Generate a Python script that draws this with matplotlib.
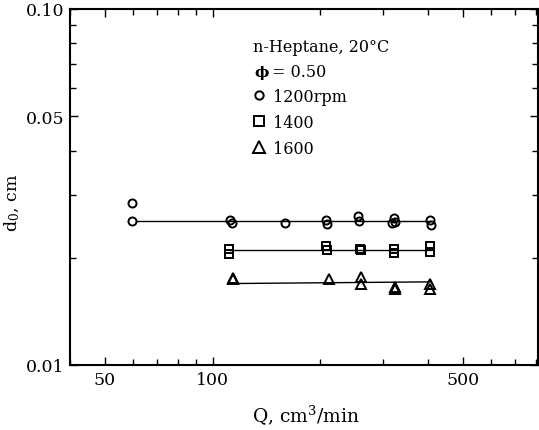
import matplotlib
matplotlib.use("Agg")
import matplotlib.pyplot as plt
from matplotlib.lines import Line2D
from matplotlib.ticker import FixedLocator, LogLocator, NullFormatter, FixedFormatter

plt.rcParams['font.family'] = ['DejaVu Serif', 'DejaVu Sans']
plt.rcParams['mathtext.fontset'] = 'dejavuserif'

# 1200 rpm (circles)
q_1200 = [59.5, 59.5, 112, 113, 159, 208, 209, 255, 257, 317, 320, 323, 405, 406]
d_1200 = [0.0285, 0.0254, 0.02555, 0.0250, 0.0250, 0.02555, 0.0249,
          0.0262, 0.0253, 0.0250, 0.0258, 0.0252, 0.0256, 0.0247]
# 1400 rpm (squares)
q_1400 = [111, 111, 208, 209, 258, 260, 320, 320, 405, 405]
d_1400 = [0.0212, 0.0205, 0.0216, 0.0211, 0.0212, 0.0210, 0.0212, 0.0206, 0.0216, 0.0208]
# 1600 rpm (triangles)
q_1600 = [114, 114, 211, 260, 260, 323, 323, 405, 405]
d_1600 = [0.0176, 0.0174, 0.0174, 0.0177, 0.0169, 0.0166, 0.0163, 0.0169, 0.0164]

# fitted lines (end points)
fit_q = {'1200': [61, 405], '1400': [112, 405], '1600': [116, 405]}
fit_d = {'1200': [0.0253, 0.0253], '1400': [0.0211, 0.0211], '1600': [0.01694, 0.01712]}

fig = plt.figure(figsize=(5.39, 4.31), dpi=100)
ax = fig.add_axes([70/539, 65/431, 468/539, 356/431])
ax.set_xscale('log')
ax.set_yscale('log')

mk = dict(ls='none', mfc='none', mec='black', mew=1.4)
ax.plot(q_1200, d_1200, marker='o', ms=5.8, **mk)
ax.plot(q_1400, d_1400, marker='s', ms=5.6, **mk)
ax.plot(q_1600, d_1600, marker='^', ms=6.5, **mk)
for k in ['1200', '1400', '1600']:
    ax.plot(fit_q[k], fit_d[k], color='black', lw=1.0)

ax.set_xlim(40, 810)
ax.set_ylim(0.01, 0.1)

ax.xaxis.set_major_locator(FixedLocator([50, 100, 500]))
ax.xaxis.set_major_formatter(FixedFormatter(['50', '100', '500']))
ax.xaxis.set_minor_locator(LogLocator(base=10, subs=(2, 3, 4, 6, 7, 8, 9)))
ax.xaxis.set_minor_formatter(NullFormatter())
ax.yaxis.set_major_locator(FixedLocator([0.01, 0.05, 0.1]))
ax.yaxis.set_major_formatter(FixedFormatter(['0.01', '0.05', '0.10']))
ax.yaxis.set_minor_locator(LogLocator(base=10, subs=(2, 3, 4, 6, 7, 8, 9)))
ax.yaxis.set_minor_formatter(NullFormatter())

ax.tick_params(which='both', direction='in', top=True, right=True, width=1.0, labelsize=12.5)
ax.tick_params(which='major', length=6, pad=4)
ax.tick_params(which='minor', length=4)
for s in ax.spines.values():
    s.set_linewidth(1.5)

ax.set_xlabel('Q, cm$^3$/min', fontsize=13.5)
ax.set_ylabel('d$_0$, cm', fontsize=12.5)
ax.xaxis.set_label_coords(0.504, -0.103)
ax.yaxis.set_label_coords(-0.103, 0.458)

ax.text(0.390, 0.883, 'n-Heptane, 20°C', transform=ax.transAxes, fontsize=11.5)
ax.text(0.393, 0.8126, 'ϕ', transform=ax.transAxes, fontsize=11, fontweight='bold')
ax.text(0.431, 0.8126, '= 0.50', transform=ax.transAxes, fontsize=11.5)

handles = [
    Line2D([], [], marker='o', ms=6, **mk),
    Line2D([], [], marker='s', ms=6.8, **mk),
    Line2D([], [], marker='^', ms=8, **mk),
]
ax.legend(handles, ['1200rpm', '1400', '1600'], loc='upper left',
          bbox_to_anchor=(0.387, 0.779), frameon=False, fontsize=11.5,
          borderpad=0, borderaxespad=0, handlelength=1.0, handletextpad=0.39,
          labelspacing=0.57)

fig.savefig('out.png', dpi=100)
